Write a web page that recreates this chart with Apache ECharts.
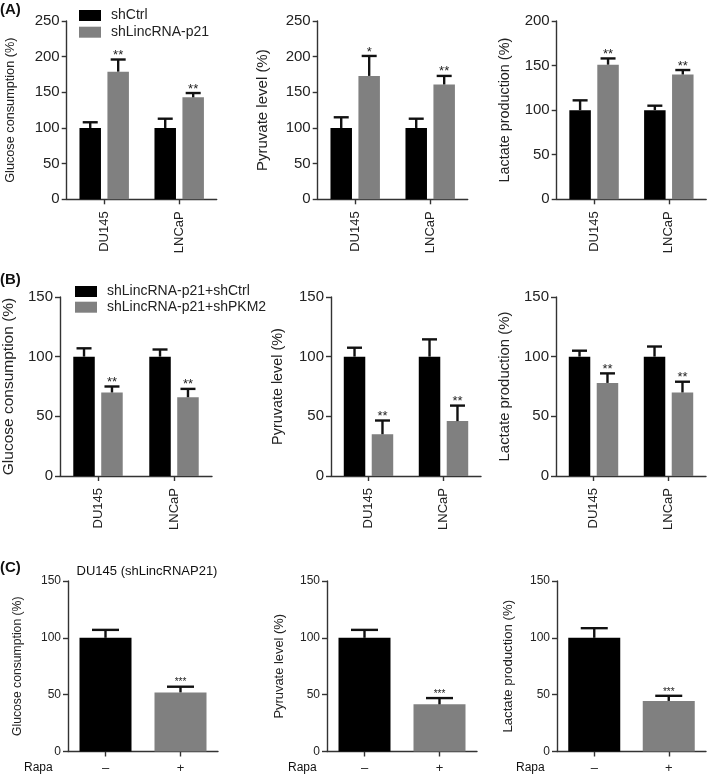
<!DOCTYPE html>
<html><head><meta charset="utf-8">
<script src="https://cdn.jsdelivr.net/npm/echarts@6/dist/echarts.min.js"></script>
<style>html,body{margin:0;padding:0;background:#fff}#c{width:709px;height:776px}</style>
</head><body><div id="c"></div>
<script>
// ---------- DATA ----------
const cellLines = ['DU145', 'LNCaP'];
const rapaLevels = ['\u2013', '+'];
const legendA = ['shCtrl', 'shLincRNA-p21'];
const legendB = ['shLincRNA-p21+shCtrl', 'shLincRNA-p21+shPKM2'];

// (A) glucose / pyruvate / lactate : shCtrl vs shLincRNA-p21
const glucA_ctrl = [100, 100], glucA_ctrl_sd = [8, 13];
const glucA_kd = [179, 143], glucA_kd_sd = [17, 6];
const glucA_sig = ['**', '**'];
const pyrA_ctrl = [100, 100], pyrA_ctrl_sd = [15, 13];
const pyrA_kd = [173, 161], pyrA_kd_sd = [28, 12];
const pyrA_sig = ['*', '**'];
const lacA_ctrl = [100, 100], lacA_ctrl_sd = [11, 5];
const lacA_kd = [151, 140], lacA_kd_sd = [7, 5];
const lacA_sig = ['**', '**'];

// (B) shLincRNA-p21+shCtrl vs shLincRNA-p21+shPKM2
const glucB_ctrl = [100, 100], glucB_ctrl_sd = [7, 6];
const glucB_kd = [70, 66], glucB_kd_sd = [5, 7];
const glucB_sig = ['**', '**'];
const pyrB_ctrl = [100, 100], pyrB_ctrl_sd = [7.5, 14.5];
const pyrB_kd = [35, 46], pyrB_kd_sd = [11.5, 13];
const pyrB_sig = ['**', '**'];
const lacB_ctrl = [100, 100], lacB_ctrl_sd = [5, 8.5];
const lacB_kd = [78, 70], lacB_kd_sd = [8, 9];
const lacB_sig = ['**', '**'];

// (C) DU145 (shLincRNAP21), Rapa - / +
const glucC = [100, 52], glucC_sd = [7, 5];
const pyrC = [100, 41.5], pyrC_sd = [7, 5.5];
const lacC = [100, 44.5], lacC_sd = [8.5, 4.5];
const sigC = ['', '***'];

// axis maxima (tick step 50)
const yMaxA = [250, 250, 200];
const yMaxB = [150, 150, 150];
const yMaxC = [150, 150, 150];
const yNames = ['Glucose consumption (%)', 'Pyruvate level (%)', 'Lactate production (%)'];

// ---------- STYLE / LAYOUT ----------
const FONT = 'Liberation Sans, Arial, Helvetica, sans-serif';
const AX = '#333';
const TXT = '#222';
const BLACK = '#000000', GRAY = '#808080';

const layout = [
  // A
  {left: 66.7, top: 21, width: 150, height: 178.3, nameGap: 50, nameSize: 12.7, tick: 15, rot: 90},
  {left: 317.7, top: 21, width: 150, height: 178.3, nameGap: 47, nameSize: 15, tick: 15, rot: 90},
  {left: 556.7, top: 21, width: 149.5, height: 178.3, nameGap: 45, nameSize: 14.4, tick: 15, rot: 90},
  // B
  {left: 60, top: 297, width: 152, height: 179, nameGap: 43, nameSize: 15.5, tick: 15, rot: 90},
  {left: 331, top: 297, width: 150, height: 179, nameGap: 45.5, nameSize: 14.4, tick: 15, rot: 90},
  {left: 556, top: 297, width: 150, height: 179, nameGap: 44, nameSize: 14.9, tick: 15, rot: 90},
  // C
  {left: 68, top: 581, width: 150, height: 170.5, nameGap: 44, nameSize: 12.2, tick: 12, rot: 0},
  {left: 327, top: 581, width: 150, height: 170.5, nameGap: 40.6, nameSize: 12.9, tick: 12, rot: 0},
  {left: 557, top: 581, width: 149, height: 170.5, nameGap: 42, nameSize: 13.2, tick: 12, rot: 0}
];

// ---------- BUILD ----------
const grids = [], xAxes = [], yAxes = [], series = [];

function axes(i, cats, yMax, yName) {
  const L = layout[i];
  grids.push({left: L.left, top: L.top, width: L.width, height: L.height, containLabel: false, outerBoundsMode: 'none'});
  xAxes.push({
    type: 'category', gridIndex: i, data: cats,
    axisLine: {show: true, lineStyle: {color: AX, width: 1.4}},
    axisTick: {show: true, alignWithLabel: true, length: 5, lineStyle: {color: AX, width: 1.4}},
    axisLabel: {rotate: L.rot, fontSize: 13, color: TXT, fontFamily: FONT, margin: L.rot ? 12 : 10, interval: 0}
  });
  yAxes.push({
    type: 'value', gridIndex: i, min: 0, max: yMax, interval: 50,
    splitLine: {show: false},
    axisLine: {show: true, lineStyle: {color: AX, width: 1.4}},
    axisTick: {show: true, length: 5, lineStyle: {color: AX, width: 1.4}},
    axisLabel: {fontSize: L.tick, color: TXT, fontFamily: FONT, margin: 7},
    name: yName, nameLocation: 'middle', nameRotate: 90, nameGap: L.nameGap, nameMoveOverlap: false,
    nameTextStyle: {fontSize: L.nameSize, color: TXT, fontFamily: FONT}
  });
}

function errSeries(i, means, sds, sigs, offset, cap, starSize) {
  return {
    type: 'custom', xAxisIndex: i, yAxisIndex: i, z: 5, silent: true, animation: false,
    data: means.map((m, k) => [k, m, m + sds[k]]),
    renderItem: (params, api) => {
      const c = api.coord([api.value(0), api.value(1)]);
      const e = api.coord([api.value(0), api.value(2)]);
      const x = c[0] + offset;
      const ch = [
        {type: 'line', shape: {x1: x, y1: c[1], x2: x, y2: e[1]}, style: {stroke: '#111', lineWidth: 2.4}},
        {type: 'line', shape: {x1: x - cap / 2, y1: e[1], x2: x + cap / 2, y2: e[1]}, style: {stroke: '#111', lineWidth: 2.4}}
      ];
      const s = sigs ? sigs[params.dataIndex] : '';
      if (s) ch.push({type: 'text', style: {text: s, x: x, y: e[1] - 4, align: 'center', verticalAlign: 'middle',
        font: starSize + 'px ' + FONT, fill: TXT}});
      return {type: 'group', children: ch};
    }
  };
}

function grouped(i, names, ctrl, ctrlSd, kd, kdSd, sig) {
  const bw = 21.5, gapRatio = 0.3;
  [[ctrl, BLACK], [kd, GRAY]].forEach(([m, col], s) => {
    series.push({type: 'bar', name: names[s], xAxisIndex: i, yAxisIndex: i, data: m, barWidth: bw,
      barGap: (gapRatio * 100) + '%', itemStyle: {color: col}, silent: true, animation: false});
  });
  const off = bw * (1 + gapRatio) / 2;
  series.push(errSeries(i, ctrl, ctrlSd, null, -off, 15, 13));
  series.push(errSeries(i, kd, kdSd, sig, off, 15, 13));
}

function single(i, vals, sds, sig) {
  const cols = [BLACK, GRAY];
  series.push({type: 'bar', xAxisIndex: i, yAxisIndex: i, barWidth: 52, silent: true, animation: false,
    data: vals.map((v, k) => ({value: v, itemStyle: {color: cols[k]}}))});
  series.push(errSeries(i, vals, sds, sig, 0, 27, 10));
}

// A
axes(0, cellLines, yMaxA[0], yNames[0]); grouped(0, legendA, glucA_ctrl, glucA_ctrl_sd, glucA_kd, glucA_kd_sd, glucA_sig);
axes(1, cellLines, yMaxA[1], yNames[1]); grouped(1, legendA, pyrA_ctrl, pyrA_ctrl_sd, pyrA_kd, pyrA_kd_sd, pyrA_sig);
axes(2, cellLines, yMaxA[2], yNames[2]); grouped(2, legendA, lacA_ctrl, lacA_ctrl_sd, lacA_kd, lacA_kd_sd, lacA_sig);
// B
axes(3, cellLines, yMaxB[0], yNames[0]); grouped(3, legendB, glucB_ctrl, glucB_ctrl_sd, glucB_kd, glucB_kd_sd, glucB_sig);
axes(4, cellLines, yMaxB[1], yNames[1]); grouped(4, legendB, pyrB_ctrl, pyrB_ctrl_sd, pyrB_kd, pyrB_kd_sd, pyrB_sig);
axes(5, cellLines, yMaxB[2], yNames[2]); grouped(5, legendB, lacB_ctrl, lacB_ctrl_sd, lacB_kd, lacB_kd_sd, lacB_sig);
// C
axes(6, rapaLevels, yMaxC[0], yNames[0]); single(6, glucC, glucC_sd, sigC);
axes(7, rapaLevels, yMaxC[1], yNames[1]); single(7, pyrC, pyrC_sd, sigC);
axes(8, rapaLevels, yMaxC[2], yNames[2]); single(8, lacC, lacC_sd, sigC);

const legendCommon = {orient: 'vertical', icon: 'rect', itemWidth: 22, itemHeight: 11, padding: 0,
  selectedMode: false, textStyle: {fontSize: 14, color: TXT, fontFamily: FONT, lineHeight: 14, padding: [0, 0, 0, 5]}};

const txt = (t, x, y, size, weight, align) => ({type: 'text', x: x, y: y, silent: true,
  style: {text: t, font: (weight || 'normal') + ' ' + size + 'px ' + FONT, fill: '#111', align: align || 'left', verticalAlign: 'middle'}});

const option = {
  backgroundColor: '#fff',
  animation: false,
  grid: grids, xAxis: xAxes, yAxis: yAxes, series: series,
  legend: [
    Object.assign({}, legendCommon, {data: legendA, left: 79, top: 8.5, itemGap: 2.7}),
    Object.assign({}, legendCommon, {data: legendB, left: 75, top: 284.5, itemGap: 1.7})
  ],
  graphic: [
    txt('(A)', 0, 10, 15, 'bold'),
    txt('(B)', 0, 280, 15, 'bold'),
    txt('(C)', 0, 568, 15, 'bold'),
    txt('DU145 (shLincRNAP21)', 147, 571, 13, 'normal', 'center'),
    txt('Rapa', 24, 768, 12),
    txt('Rapa', 288, 768, 12),
    txt('Rapa', 516, 768, 12)
  ]
};

const chart = echarts.init(document.getElementById('c'), null, {renderer: 'canvas'});
chart.setOption(option);
</script>
</body></html>
